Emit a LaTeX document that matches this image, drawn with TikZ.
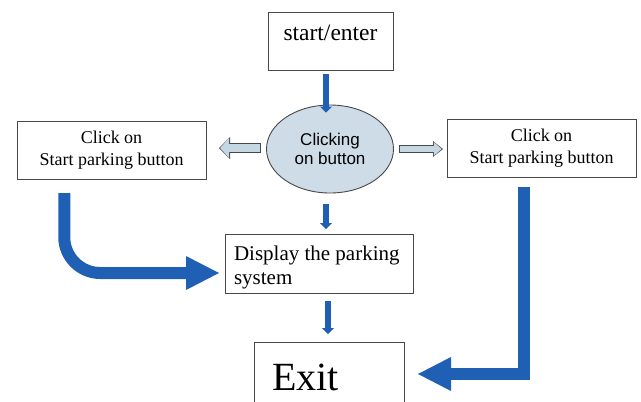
\documentclass[tikz,border=0pt]{standalone}
\usepackage{fontspec}
\setmainfont{Liberation Serif}
\newfontfamily\ovalfont{Liberation Sans}
\usetikzlibrary{arrows.meta,calc,shapes.geometric}
\definecolor{flowblue}{RGB}{31,96,180}
\definecolor{ovalblue}{RGB}{206,220,232}
\definecolor{hollowblue}{RGB}{198,215,228}
\definecolor{framegray}{RGB}{72,72,72}
\begin{document}
\begin{tikzpicture}[x=1pt,y=-1pt,
		box/.style={draw=framegray,line width=.9pt,inner sep=0pt,outer sep=0pt},
		thinarrow/.style={flowblue,line width=5.5pt,-{Triangle[width=12pt,length=6pt,line width=0pt]}},
		thickarrow/.style={flowblue,line width=12pt,-{Triangle[width=34pt,length=33pt,line width=0pt]}}]
		\useasboundingbox (0,0) rectangle (641,402);
		\clip (0,0) rectangle (641,402);
		\node[box,minimum width=125pt,minimum height=58pt,text depth=16pt,font=\fontsize{23.5}{28}\selectfont](start) at(330.5,41){start/enter};
		\node[ellipse,draw=framegray,line width=.9pt,fill=ovalblue,minimum width=127pt,minimum height=88pt,inner sep=0pt,align=center,font=\ovalfont\fontsize{17}{18.5}\selectfont](ell) at(330,149){Clicking\\on button};
		\foreach \n/\x/\y in {left/111.5/150,right/541.5/148}
		\node[box,minimum width=189pt,minimum height=58pt,align=center,font=\fontsize{18}{22}\selectfont](\n) at(\x,\y){Click on\\Start parking button};
		\node[box,minimum width=188pt,minimum height=59pt,text width=170pt,align=flush left,font=\fontsize{21}{24}\selectfont](disp) at(319,263.5){\rule{0pt}{23pt}Display the parking\\system};
		\node[box,minimum width=150pt,minimum height=70pt,text width=114pt,inner xsep=18pt,align=flush left,text depth=0pt,font=\fontsize{40}{40}\selectfont](exit) at(329,377){Exit};
		% hollow arrows to both sides
		\coordinate (lt) at ($(ell.west)+(-5,-1)$);
		\coordinate (lh) at ($(ell.west -| left.east)+(13,-1)$);
		\coordinate (rt) at ($(ell.east)+(5,0)$);
		\coordinate (rh) at ($(ell.east -| right.west)+(-4,0)$);
		\foreach \s/\e/\w/\hw/\hl/\iw/\ihw/\ihl/\ins in {lt/lh/10pt/22pt/11pt/8.4pt/19.8pt/9pt/1.1pt,rt/rh/8pt/16pt/10pt/6.4pt/13.9pt/7.9pt/1.3pt}{
			\draw[framegray,line width=\w,-{Triangle[width=\hw,length=\hl,line width=0pt]}] (\s) -- (\e);
			\draw[hollowblue,line width=\iw,shorten <=.8pt,shorten >=\ins,-{Triangle[width=\ihw,length=\ihl,line width=0pt]}] (\s) -- (\e);
		}
		\draw[thinarrow] ($(start.south)+(-4.5,4)$) -- ($(ell.north)+(-4,8)$);
		\draw[thinarrow] ($(ell.south)+(-4,11)$) -- ($(ell.south |- disp.north)+(-4,-5)$);
		\draw[thinarrow] ($(exit.north |- disp.south)+(-1,8)$) -- ($(exit.north)+(-1,-8)$);
		\draw[thickarrow,rounded corners=36pt] ($(left.south west)!.25!(left.south east)+(0,14)$) |- ($(disp.west)+(-6,9.5)$);
		\draw[thickarrow] ($(right.south)+(-17.5,10)$) |- ($(exit.east)+(14,-3)$);
	\end{tikzpicture}
\end{document}
